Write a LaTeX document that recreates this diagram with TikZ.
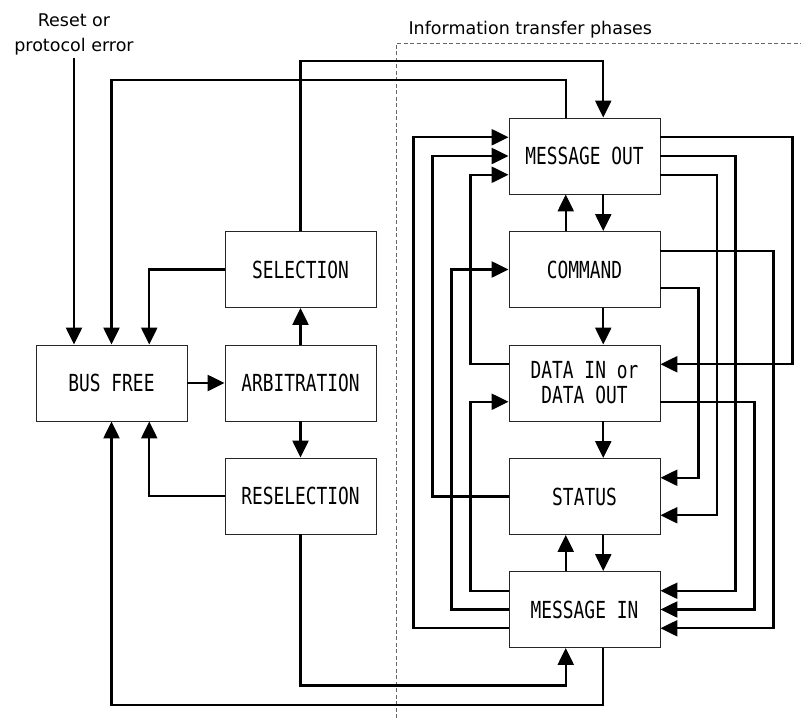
\documentclass[tikz,border=0pt]{standalone}
\usepackage{fontspec}
\setmainfont{DejaVu Sans}
\newfontfamily\boxfont[FakeStretch=0.76]{DejaVu Sans Mono}
\usetikzlibrary{arrows.meta,calc}
\tikzstyle{phase}=[draw=black!85, line width=0.9pt, minimum width=151pt, minimum height=76pt,
  inner sep=0pt, align=center, font=\boxfont\fontsize{23.5}{25}\selectfont]
\tikzset{flow/.style={line width=2.4pt, -{Triangle[length=17pt,width=16pt]}}}

\begin{document}
\begin{tikzpicture}[x=1pt, y=-1pt]
    \useasboundingbox (0,0) rectangle (801,718);
    \draw[black!60, line width=0.9pt, dash pattern=on 4pt off 2.5pt] (396,718) |- (801,43);
    \node[anchor=base west, font=\fontsize{17.5}{25}\selectfont] (info) at (405,34) {Information transfer phases};
    \node[align=center, font=\fontsize{17.5}{25}\selectfont] (reset) at (74,34) {Reset or\\protocol error};

    \node[phase] (busfree) at (111.5,383) {BUS FREE};
    \node[phase] (arb) at (300.5,383) {ARBITRATION};
    \node[phase] (sel) at (300.5,269.5) {SELECTION};
    \node[phase] (resel) at (300.5,496) {RESELECTION};
    \node[phase] (msgout) at (584.5,156) {MESSAGE OUT};
    \node[phase] (cmd) at (584.5,269.5) {COMMAND};
    \node[phase] (data) at (584.5,383) {DATA IN or\\DATA OUT};
    \node[phase] (status) at (584.5,496.5) {STATUS};
    \node[phase] (msgin) at (584.5,609.5) {MESSAGE IN};

    % bus phases
    \draw[flow] (reset.south) -- (reset.south |- busfree.north);
    \draw[flow] ($(msgout.north)+(-18.75,0)$) -- ++(0,-37.5) -| (busfree.north);
    \draw[flow] (sel.north) -- ++(0,-170) -| ($(msgout.north)+(18.75,0)$);
    \draw[flow] (sel.west) -| ($(busfree.north)+(37.75,0)$);
    \draw[flow] (busfree) -- (arb);
    \draw[flow] (arb) -- (sel);
    \draw[flow] (arb) -- (resel);
    \draw[flow] (resel.west) -| ($(busfree.south)+(37.75,0)$);
    \draw[flow] (resel.south) -- ++(0,151) -| ($(msgin.south)+(-18.75,0)$);
    \draw[flow] ($(msgin.south)+(18.75,0)$) -- ++(0,57) -| (busfree.south);

    % information transfer phases
    \draw[flow] ($(cmd.north)+(-18.75,0)$) -- ($(msgout.south)+(-18.75,0)$);
    \draw[flow] ($(msgout.south)+(18.75,0)$) -- ($(cmd.north)+(18.75,0)$);
    \draw[flow] ($(cmd.south)+(18.75,0)$) -- ($(data.north)+(18.75,0)$);
    \draw[flow] ($(data.south)+(18.75,0)$) -- ($(status.north)+(18.75,0)$);
    \draw[flow] ($(msgin.north)+(-18.75,0)$) -- ($(status.south)+(-18.75,0)$);
    \draw[flow] ($(status.south)+(18.75,0)$) -- ($(msgin.north)+(18.75,0)$);

    \draw[flow] ($(msgin.west)+(0,18.75)$) -- ++(-95,0) |- ($(msgout.west)+(0,-18.75)$);
    \draw[flow] (status.west) -- ++(-76,0) |- (msgout.west);
    \draw[flow] ($(data.west)+(0,-18.75)$) -- ++(-38,0) |- ($(msgout.west)+(0,18.75)$);
    \draw[flow] (msgin.west) -- ++(-57,0) |- (cmd.west);
    \draw[flow] ($(msgin.west)+(0,-18.75)$) -- ++(-38,0) |- ($(data.west)+(0,18.75)$);

    \draw[flow] ($(msgout.east)+(0,-18.75)$) -- ++(132,0) |- ($(data.east)+(0,-18.75)$);
    \draw[flow] (msgout.east) -- ++(75,0) |- ($(msgin.east)+(0,-18.75)$);
    \draw[flow] ($(msgout.east)+(0,18.75)$) -- ++(56.5,0) |- ($(status.east)+(0,18.75)$);
    \draw[flow] ($(cmd.east)+(0,-18.75)$) -- ++(113,0) |- ($(msgin.east)+(0,18.75)$);
    \draw[flow] ($(cmd.east)+(0,18.75)$) -- ++(38,0) |- ($(status.east)+(0,-18.75)$);
    \draw[flow] ($(data.east)+(0,18.75)$) -- ++(94,0) |- (msgin.east);
\end{tikzpicture}
\end{document}
